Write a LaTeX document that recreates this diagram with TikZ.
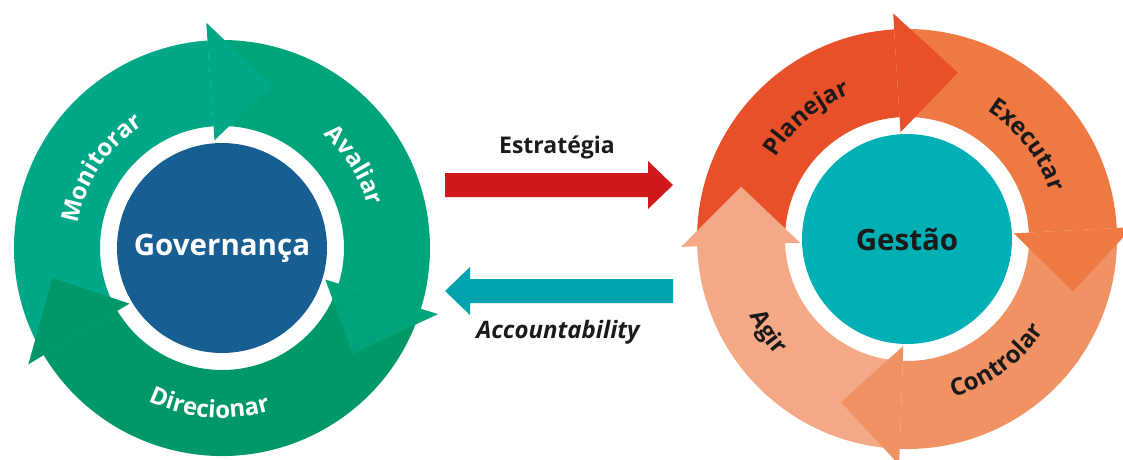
\documentclass[tikz,border=0pt]{standalone}
\usepackage{fontspec}
\setmainfont{Open Sans}
\usetikzlibrary{decorations.text}
\definecolor{gA}{HTML}{00A887}
\definecolor{gB}{HTML}{00A47A}
\definecolor{gC}{HTML}{009868}
\definecolor{govblue}{HTML}{175E93}
\definecolor{oA}{HTML}{E8502A}
\definecolor{oB}{HTML}{EE7943}
\definecolor{oC}{HTML}{F19264}
\definecolor{oD}{HTML}{F3A886}
\definecolor{gesteal}{HTML}{00B0B5}
\definecolor{redarrow}{HTML}{D1191B}
\definecolor{tealarrow}{HTML}{00A3AE}
\definecolor{darktext}{HTML}{1A1A1A}
% color, from angle, to angle, inner r, outer r
\newcommand\ringbody[5]{\fill[#1] (#2:#5) arc[start angle=#2,end angle=#3,radius=#5] -- (#3:#4) arc[start angle=#3,end angle=#2,radius=#4] -- cycle;}
% color, base angle, tip angle, inner r, outer r, tip r
\newcommand\ringhead[6]{\fill[#1] (#2:#5) -- (#3:#6) -- (#2:#4) -- cycle;}
\newcommand\lblw{\fontsize{24pt}{24pt}\selectfont\bfseries\color{white}}
\newcommand\lbld{\fontsize{24pt}{24pt}\selectfont\bfseries\color{darktext}}
\tikzset{
  curvedlabel/.style={decorate,decoration={text along path,text={#1},text align=center}},
  centertext/.style={circle,inner sep=0pt,font=\fontsize{29.5pt}{29.5pt}\selectfont\bfseries},
  midtext/.style={inner sep=0pt,font=\fontsize{23pt}{23pt}\selectfont\bfseries,text=darktext}
}
\begin{document}
\begin{tikzpicture}
\useasboundingbox (0pt,0pt) rectangle (1123pt,459pt);
% ---------------- Governança ----------------
\begin{scope}[shift={(222pt,211pt)}]
  \ringbody{gA}{211}{94}{122pt}{208pt}
  \ringbody{gB}{94}{-17}{122pt}{208pt}
  \ringbody{gC}{-17}{-149}{122pt}{208pt}
  \ringhead{gA}{94}{73}{108pt}{226pt}{170pt}
  \ringhead{gB}{-17}{-39}{108pt}{226pt}{168pt}
  \ringhead{gC}{211}{190}{108pt}{226pt}{172pt}
  \path[curvedlabel={|\lblw|Monitorar}] (196.6:146pt) arc[start angle=196.6,end angle=96.6,radius=146pt];
  \path[curvedlabel={|\lblw|Avaliar}] (82:152pt) arc[start angle=82,end angle=-18,radius=152pt];
  \path[curvedlabel={|\lblw|Direcionar}] (-144.6:170pt) arc[start angle=-144.6,end angle=-44.6,radius=170pt];
\end{scope}
\node[centertext,fill=govblue,minimum size=210pt,text=white] (gov) at (222pt,211pt) {Governança};
% ---------------- Gestão ----------------
\begin{scope}[shift={(907pt,220pt)}]
  \ringbody{oA}{182}{93.5}{122pt}{210pt}
  \ringbody{oB}{93.5}{3}{122pt}{210pt}
  \ringbody{oC}{3}{-92}{122pt}{210pt}
  \ringbody{oD}{-92}{-178}{122pt}{210pt}
  \ringhead{oA}{93.5}{73}{107pt}{226pt}{174pt}
  \ringhead{oB}{3}{-17.5}{107pt}{226pt}{174pt}
  \ringhead{oC}{-92}{-112}{107pt}{226pt}{176pt}
  \ringhead{oD}{182}{162.5}{107pt}{226pt}{174pt}
  \path[curvedlabel={|\lbld|Planejar}] (179.8:155pt) arc[start angle=179.8,end angle=79.8,radius=155pt];
  \path[curvedlabel={|\lbld|Executar}] (88:151pt) arc[start angle=88,end angle=-12,radius=151pt];
  \path[curvedlabel={|\lbld|Controlar}] (-103.8:165pt) arc[start angle=-103.8,end angle=-3.8,radius=165pt];
  \path[curvedlabel={|\lbld|Agir}] (163.8:175pt) arc[start angle=163.8,end angle=263.8,radius=175pt];
\end{scope}
\node[centertext,fill=gesteal,minimum size=210pt,text=darktext] (gest) at (907pt,220pt) {Gestão};
% ---------------- middle arrows ----------------
\coordinate (ra1) at (445pt,274pt);
\coordinate (ra2) at (673pt,274pt);
\fill[redarrow] (ra1) ++(0pt,12pt) -- ++(203pt,0pt) -- ++(0pt,12pt) -- (ra2) -- ++(-25pt,-24pt) -- ++(0pt,12pt) -- ++(-203pt,0pt) -- cycle;
\coordinate (ta1) at (673pt,168pt);
\coordinate (ta2) at (445pt,168pt);
\fill[tealarrow] (ta1) ++(0pt,12pt) -- ++(-203pt,0pt) -- ++(0pt,12pt) -- (ta2) -- ++(25pt,-24pt) -- ++(0pt,12pt) -- ++(203pt,0pt) -- cycle;
\node[midtext] (estr) at (557pt,312pt) {Estratégia};
\node[midtext,font=\fontsize{24pt}{24pt}\selectfont\bfseries\itshape] (acc) at (558pt,127pt) {Accountability};
\end{tikzpicture}
\end{document}
